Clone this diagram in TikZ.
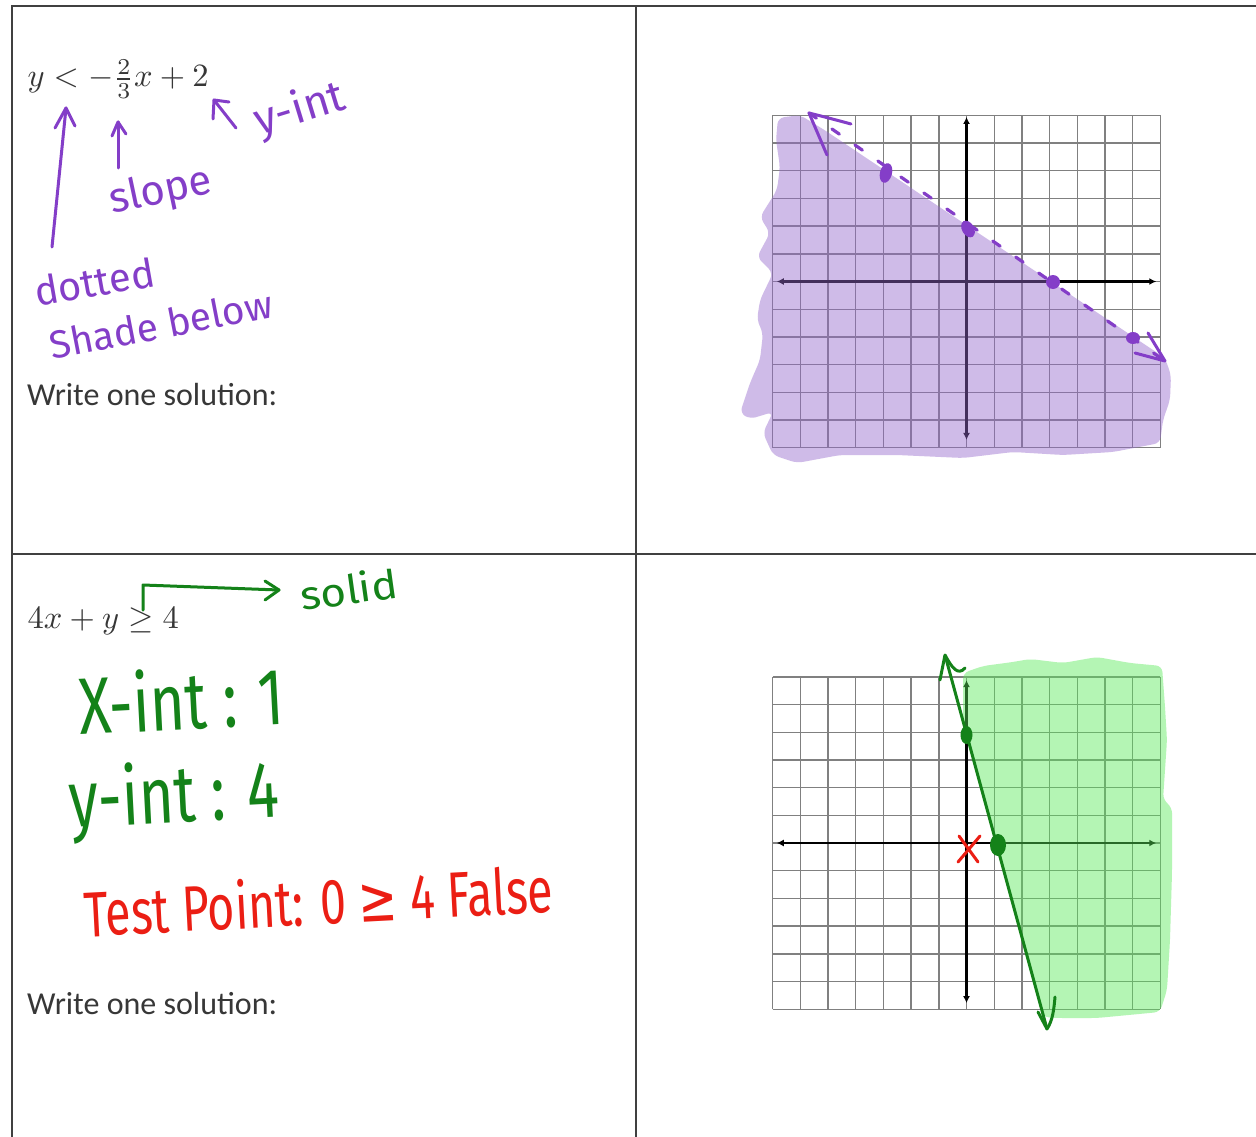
\documentclass[tikz,border=0pt]{standalone}
\usepackage{fontspec}
\setmainfont{Carlito}
\newfontfamily\hand{Fira Sans}
\newfontfamily\dejavu{DejaVu Sans}
\usetikzlibrary{arrows.meta}
\definecolor{tableline}{RGB}{64,64,64}
\definecolor{printgray}{RGB}{55,55,55}
\definecolor{gridgray}{RGB}{128,128,128}
\definecolor{penpurple}{RGB}{132,62,200}
\definecolor{shadepurple}{RGB}{150,105,205}
\definecolor{pengreen}{RGB}{20,130,25}
\definecolor{shadegreen}{RGB}{90,235,90}
\definecolor{penred}{RGB}{235,30,20}
\tikzset{
  tline/.style={draw=tableline, line width=2pt},
  printed/.style={text=printgray, inner sep=0pt, anchor=base west},
  hw/.style={inner sep=0pt, anchor=base west},
  pen/.style={line width=3pt, line cap=round, line join=round},
  gridline/.style={draw=gridgray, line width=1.4pt},
  axis/.style={line width=2.8pt, black, {Latex[length=7pt,width=7pt]}-{Latex[length=7pt,width=7pt]}},
}
\newcommand\handsz[1]{\hand\fontsize{#1}{#1}\selectfont}
\begin{document}
\begin{tikzpicture}[x=1pt,y=-1pt]
\useasboundingbox (0,0) rectangle (1256,1137);
\fill[white] (0,0) rectangle (1256,1137);
% table
\draw[tline] (12,1137) -- (12,6) -- (1256,6);
\draw[tline] (636,6) -- (636,1137);
\draw[tline] (12,554) -- (1256,554);

% ---------- top-left cell ----------
\node[printed, scale=3.25] (eq1) at (27,87) {$y<-{2\over 3}x+2$};
\node[printed, font=\fontsize{32}{38}\selectfont] (write1) at (27,405) {Write one solution:};

\coordinate (a1s) at (52,247); \coordinate (a1t) at (66,108);
\draw[penpurple, pen] (a1s) -- (a1t);
\draw[penpurple, pen] (55,128) -- (a1t) -- (75,126);
\coordinate (a2s) at (118,168); \coordinate (a2t) at (118,122);
\draw[penpurple, pen] (a2s) -- (a2t);
\draw[penpurple, pen] (112,136) -- (a2t) -- (126,134);
\coordinate (a3s) at (236,128); \coordinate (a3t) at (214,100);
\draw[penpurple, pen] (a3s) -- (a3t);
\draw[penpurple, pen] (213,119) -- (a3t) -- (229,102);

\node[hw, text=penpurple, font=\handsz{42}, rotate=12] (slope) at (112,214) {slope};
\node[hw, text=penpurple, font=\handsz{44}, rotate=17] (yint1) at (259,136) {y-int};
\node[hw, text=penpurple, font=\handsz{40}, rotate=10] (dotted) at (37,307) {dotted};
\node[hw, text=penpurple, font=\handsz{39}, rotate=11] (shade) at (52,360) {Shade below};

% ---------- top-right graph ----------
\begin{scope}[shift={(966.5,281.5)}, x=27.7pt, y=27.7pt]
  \draw[gridline, step=1] (-7,-6) grid (7,6);
  \draw[axis] (-6.85,0) -- (6.85,0);
  \draw[axis] (0,5.94) -- (0,-5.72);
\end{scope}
\fill[shadepurple, fill opacity=0.45, rounded corners=6pt]
 (778,118) -- (800,115) -- (826,131) -- (1165,358) -- (1171,375) -- (1170,400)
 -- (1163,420) -- (1160,443) -- (1113,452) -- (1063,455) -- (1013,452) -- (963,458)
 -- (897,455) -- (840,455) -- (797,463) -- (773,455) -- (763,433) -- (773,412)
 -- (750,419) -- (740,413) -- (750,383) -- (760,360) -- (763,333) -- (757,320)
 -- (760,300) -- (773,273) -- (757,257) -- (770,233) -- (760,217) -- (777,190)
 -- (780,167) -- (776,140) -- cycle;
\coordinate (l1a) at (809,113); \coordinate (l1b) at (1165,361);
\draw[penpurple, line width=3.2pt, line cap=round, dash pattern=on 9pt off 19pt] (l1a) -- (l1b);
\draw[penpurple, pen] (827,155) -- (l1a) .. controls (825,117) and (840,121) .. (851,124);
\draw[penpurple, pen] (1148,333) -- (l1b) -- (1135,353);
\fill[penpurple, rotate around={-15:(886,173)}] (886,173) ellipse [x radius=6pt, y radius=10pt];
\fill[penpurple, rotate around={30:(968,229)}] (968,229) ellipse [x radius=6pt, y radius=9pt];
\fill[penpurple] (1053,282) ellipse [x radius=7pt, y radius=7pt];
\fill[penpurple] (1133,338) ellipse [x radius=7pt, y radius=6pt];

% ---------- bottom-left cell ----------
\node[printed, scale=3.25] (eq2) at (27,628) {$4x+y\geq 4$};
\node[printed, font=\fontsize{32}{38}\selectfont] (write2) at (27,1014) {Write one solution:};
\coordinate (b1) at (143,610); \coordinate (b2) at (143,585); \coordinate (b3) at (279,590);
\draw[pengreen, pen] (b1) -- (b2) -- (b3);
\draw[pengreen, pen] (265,581) -- (b3) -- (265,600);
\node[hw, text=pengreen, font=\handsz{40}, rotate=8, xscale=1.1] (solid) at (302,611) {solid};
\node[hw, text=pengreen, font=\handsz{80}, rotate=3, xscale=0.75] (xint) at (80,735) {X-int : 1};
\node[hw, text=pengreen, font=\handsz{80}, rotate=3, xscale=0.75] (yint2) at (70,828) {y-int : 4};
\node[hw, text=penred, font=\handsz{64}, rotate=3, xscale=0.73] (test) at (85,937) {Test Point: 0 {\dejavu ≥} 4 False};

% ---------- bottom-right graph ----------
\begin{scope}[shift={(966.5,843)}, x=27.7pt, y=27.7pt]
  \draw[gridline, step=1] (-7,-6) grid (7,6);
  \draw[axis] (-6.85,0) -- (6.85,0);
  \draw[axis] (0,5.88) -- (0,-5.78);
\end{scope}
\fill[shadegreen, fill opacity=0.45, rounded corners=6pt]
 (963,673) -- (983,666) -- (1013,662) -- (1030,659) -- (1063,663) -- (1097,657)
 -- (1130,663) -- (1162,666) -- (1165,707) -- (1167,740) -- (1163,800) -- (1172,807)
 -- (1172,873) -- (1170,940) -- (1167,990) -- (1160,1012) -- (1097,1018) -- (1057,1018)
 -- (1043,1017) -- (963,723) -- cycle;
\coordinate (l2a) at (945,655); \coordinate (l2b) at (1047,1029);
\draw[pengreen, line width=3pt] (l2a) -- (l2b);
\draw[pengreen, pen] (940,680) -- (l2a) .. controls (952,668) and (958,676) .. (965,668);
\draw[pengreen, pen] (1038,1012) -- (l2b) .. controls (1053,1020) and (1054,1008) .. (1055,997);
\fill[pengreen] (966.5,735) ellipse [x radius=6pt, y radius=9pt];
\fill[pengreen] (998,845) ellipse [x radius=8pt, y radius=11pt];
\draw[penred, pen] (959,836) -- (978,862);
\draw[penred, pen] (980,836) -- (958,862);
\end{tikzpicture}
\end{document}
